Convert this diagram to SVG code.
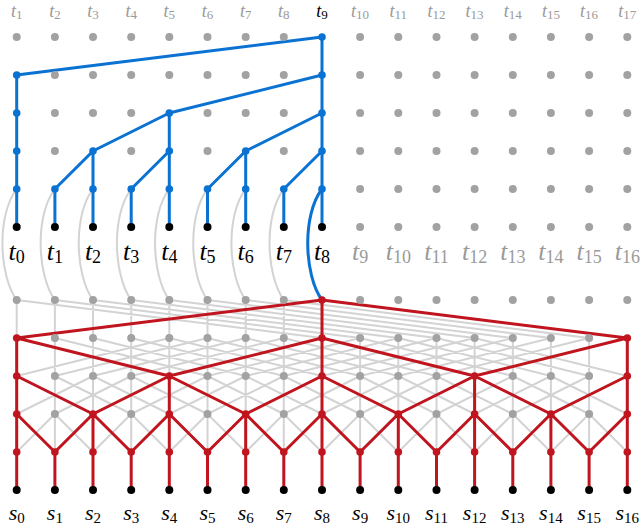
<svg xmlns="http://www.w3.org/2000/svg" xmlns:xlink="http://www.w3.org/1999/xlink" width="640" height="524" viewBox="0 0 640 524">
<style>
.gl{fill:none;stroke:#d3d3d3;stroke-width:2}
.bl{fill:none;stroke:#0a72d2;stroke-width:3;stroke-linejoin:round;stroke-linecap:round}
.rl{fill:none;stroke:#c0151f;stroke-width:3;stroke-linejoin:round;stroke-linecap:round}
.g{fill:#a2a2a2}
.b{fill:#0a72d2}
.r{fill:#c0151f}
.k{fill:#000}
text{font-family:"Liberation Serif","DejaVu Serif",serif;font-style:italic;text-anchor:middle}
.sb{font-style:normal}
.t1{font-size:18px}.t1 .sb{font-size:13px}
.t2{font-size:26px}.t2 .sb{font-size:18px}
.t3{font-size:22px}.t3 .sb{font-size:15px}
.tg{fill:#9a9a9a}
.tk{fill:#000}
</style>
<rect width="640" height="524" fill="#fff"/>
<g id="connectors">
<path class="gl" d="M16.7 189C-3.3 215 -1.3 275 16.7 300M54.9 189C34.9 215 36.9 275 54.9 300M93 189C73 215 75 275 93 300M131.2 189C111.2 215 113.2 275 131.2 300M169.3 189C149.3 215 151.3 275 169.3 300M207.5 189C187.5 215 189.5 275 207.5 300M245.7 189C225.7 215 227.7 275 245.7 300M283.8 189C263.8 215 265.8 275 283.8 300"/>
<path class="gl" d="M16.7 300V338M54.9 300V338M93 300V338M131.2 300V338M169.3 300V338M207.5 300V338M245.7 300V338M283.8 300V338
M16.7 300L322 338M54.9 300L360.1 338M93 300L398.3 338M131.2 300L436.5 338M169.3 300L474.6 338M207.5 300L512.8 338M245.7 300L550.9 338M283.8 300L589.1 338
M16.7 338V452M54.9 338V452M93 338V452M131.2 338V452M169.3 338V452M207.5 338V452M245.7 338V452M283.8 338V452M322 338V452M360.1 338V452M398.3 338V452M436.5 338V452M474.6 338V452M512.8 338V452M550.9 338V452M589.1 338V452M627.3 338V452
M16.7 338L169.3 376M54.9 338L207.5 376M93 338L245.7 376M131.2 338L283.8 376M169.3 338L322 376M207.5 338L360.1 376M245.7 338L398.3 376M283.8 338L436.5 376M322 338L474.6 376M360.1 338L512.8 376M398.3 338L550.9 376M436.5 338L589.1 376M474.6 338L627.3 376
M169.3 338L16.7 376M207.5 338L54.9 376M245.7 338L93 376M283.8 338L131.2 376M322 338L169.3 376M360.1 338L207.5 376M398.3 338L245.7 376M436.5 338L283.8 376M474.6 338L322 376M512.8 338L360.1 376M550.9 338L398.3 376M589.1 338L436.5 376M627.3 338L474.6 376
M16.7 376L93 414M54.9 376L131.2 414M93 376L169.3 414M131.2 376L207.5 414M169.3 376L245.7 414M207.5 376L283.8 414M245.7 376L322 414M283.8 376L360.1 414M322 376L398.3 414M360.1 376L436.5 414M398.3 376L474.6 414M436.5 376L512.8 414M474.6 376L550.9 414M512.8 376L589.1 414M550.9 376L627.3 414
M93 376L16.7 414M131.2 376L54.9 414M169.3 376L93 414M207.5 376L131.2 414M245.7 376L169.3 414M283.8 376L207.5 414M322 376L245.7 414M360.1 376L283.8 414M398.3 376L322 414M436.5 376L360.1 414M474.6 376L398.3 414M512.8 376L436.5 414M550.9 376L474.6 414M589.1 376L512.8 414M627.3 376L550.9 414
M16.7 414L54.9 452M54.9 414L93 452M93 414L131.2 452M131.2 414L169.3 452M169.3 414L207.5 452M207.5 414L245.7 452M245.7 414L283.8 452M283.8 414L322 452M322 414L360.1 452M360.1 414L398.3 452M398.3 414L436.5 452M436.5 414L474.6 452M474.6 414L512.8 452M512.8 414L550.9 452M550.9 414L589.1 452M589.1 414L627.3 452
M54.9 414L16.7 452M93 414L54.9 452M131.2 414L93 452M169.3 414L131.2 452M207.5 414L169.3 452M245.7 414L207.5 452M283.8 414L245.7 452M322 414L283.8 452M360.1 414L322 452M398.3 414L360.1 452M436.5 414L398.3 452M474.6 414L436.5 452M512.8 414L474.6 452M550.9 414L512.8 452M589.1 414L550.9 452M627.3 414L589.1 452"/>
<path class="rl" d="M322 300L16.7 338M322 300L627.3 338M322 300V338
M16.7 338V376M16.7 338L169.3 376M322 338L169.3 376M322 338V376M322 338L474.6 376M627.3 338L474.6 376M627.3 338V376
M16.7 376V414M16.7 376L93 414M169.3 376L93 414M169.3 376V414M169.3 376L245.7 414M322 376L245.7 414M322 376V414M322 376L398.3 414M474.6 376L398.3 414M474.6 376V414M474.6 376L550.9 414M627.3 376L550.9 414M627.3 376V414
M16.7 414V452M16.7 414L54.9 452M93 414L54.9 452M93 414V452M93 414L131.2 452M169.3 414L131.2 452M169.3 414V452M169.3 414L207.5 452M245.7 414L207.5 452M245.7 414V452M245.7 414L283.8 452M322 414L283.8 452M322 414V452M322 414L360.1 452M398.3 414L360.1 452M398.3 414V452M398.3 414L436.5 452M474.6 414L436.5 452M474.6 414V452M474.6 414L512.8 452M550.9 414L512.8 452M550.9 414V452M550.9 414L589.1 452M627.3 414L589.1 452M627.3 414V452
M16.7 452V490M54.9 452V490M93 452V490M131.2 452V490M169.3 452V490M207.5 452V490M245.7 452V490M283.8 452V490M322 452V490M360.1 452V490M398.3 452V490M436.5 452V490M474.6 452V490M512.8 452V490M550.9 452V490M589.1 452V490M627.3 452V490"/>
<path class="bl" d="M322 189C302 215 304 275 322 300"/>
<path class="bl" d="M16.7 75L322 37M322 37V227M16.7 75V227M322 75L169.3 113M169.3 113V227M169.3 113L93 151M322 113L245.7 151M93 151V227M245.7 151V227M93 151L54.9 189M169.3 151L131.2 189M245.7 151L207.5 189M322 151L283.8 189M54.9 189V227M131.2 189V227M207.5 189V227M283.8 189V227"/>
</g>
<g id="top-labels">
<text class="t1 tg" x="16.7" y="17">t<tspan class="sb" dy="2">1</tspan></text>
<text class="t1 tg" x="54.9" y="17">t<tspan class="sb" dy="2">2</tspan></text>
<text class="t1 tg" x="93" y="17">t<tspan class="sb" dy="2">3</tspan></text>
<text class="t1 tg" x="131.2" y="17">t<tspan class="sb" dy="2">4</tspan></text>
<text class="t1 tg" x="169.3" y="17">t<tspan class="sb" dy="2">5</tspan></text>
<text class="t1 tg" x="207.5" y="17">t<tspan class="sb" dy="2">6</tspan></text>
<text class="t1 tg" x="245.7" y="17">t<tspan class="sb" dy="2">7</tspan></text>
<text class="t1 tg" x="283.8" y="17">t<tspan class="sb" dy="2">8</tspan></text>
<text class="t1 tk" x="322" y="17">t<tspan class="sb" dy="2">9</tspan></text>
<text class="t1 tg" x="360.1" y="17">t<tspan class="sb" dy="2">10</tspan></text>
<text class="t1 tg" x="398.3" y="17">t<tspan class="sb" dy="2">11</tspan></text>
<text class="t1 tg" x="436.5" y="17">t<tspan class="sb" dy="2">12</tspan></text>
<text class="t1 tg" x="474.6" y="17">t<tspan class="sb" dy="2">13</tspan></text>
<text class="t1 tg" x="512.8" y="17">t<tspan class="sb" dy="2">14</tspan></text>
<text class="t1 tg" x="550.9" y="17">t<tspan class="sb" dy="2">15</tspan></text>
<text class="t1 tg" x="589.1" y="17">t<tspan class="sb" dy="2">16</tspan></text>
<text class="t1 tg" x="627.3" y="17">t<tspan class="sb" dy="2">17</tspan></text>
</g>
<g id="mid-labels">
<text class="t2 tk" x="16.7" y="260">t<tspan class="sb" dy="3">0</tspan></text>
<text class="t2 tk" x="54.9" y="260">t<tspan class="sb" dy="3">1</tspan></text>
<text class="t2 tk" x="93" y="260">t<tspan class="sb" dy="3">2</tspan></text>
<text class="t2 tk" x="131.2" y="260">t<tspan class="sb" dy="3">3</tspan></text>
<text class="t2 tk" x="169.3" y="260">t<tspan class="sb" dy="3">4</tspan></text>
<text class="t2 tk" x="207.5" y="260">t<tspan class="sb" dy="3">5</tspan></text>
<text class="t2 tk" x="245.7" y="260">t<tspan class="sb" dy="3">6</tspan></text>
<text class="t2 tk" x="283.8" y="260">t<tspan class="sb" dy="3">7</tspan></text>
<text class="t2 tk" x="322" y="260">t<tspan class="sb" dy="3">8</tspan></text>
<text class="t2 tg" x="360.1" y="260">t<tspan class="sb" dy="3">9</tspan></text>
<text class="t2 tg" x="398.3" y="260">t<tspan class="sb" dy="3">10</tspan></text>
<text class="t2 tg" x="436.5" y="260">t<tspan class="sb" dy="3">11</tspan></text>
<text class="t2 tg" x="474.6" y="260">t<tspan class="sb" dy="3">12</tspan></text>
<text class="t2 tg" x="512.8" y="260">t<tspan class="sb" dy="3">13</tspan></text>
<text class="t2 tg" x="550.9" y="260">t<tspan class="sb" dy="3">14</tspan></text>
<text class="t2 tg" x="589.1" y="260">t<tspan class="sb" dy="3">15</tspan></text>
<text class="t2 tg" x="627.3" y="260">t<tspan class="sb" dy="3">16</tspan></text>
</g>
<g id="bottom-labels">
<text class="t3 tk" x="16.7" y="520">s<tspan class="sb" dy="2.5">0</tspan></text>
<text class="t3 tk" x="54.9" y="520">s<tspan class="sb" dy="2.5">1</tspan></text>
<text class="t3 tk" x="93" y="520">s<tspan class="sb" dy="2.5">2</tspan></text>
<text class="t3 tk" x="131.2" y="520">s<tspan class="sb" dy="2.5">3</tspan></text>
<text class="t3 tk" x="169.3" y="520">s<tspan class="sb" dy="2.5">4</tspan></text>
<text class="t3 tk" x="207.5" y="520">s<tspan class="sb" dy="2.5">5</tspan></text>
<text class="t3 tk" x="245.7" y="520">s<tspan class="sb" dy="2.5">6</tspan></text>
<text class="t3 tk" x="283.8" y="520">s<tspan class="sb" dy="2.5">7</tspan></text>
<text class="t3 tk" x="322" y="520">s<tspan class="sb" dy="2.5">8</tspan></text>
<text class="t3 tk" x="360.1" y="520">s<tspan class="sb" dy="2.5">9</tspan></text>
<text class="t3 tk" x="398.3" y="520">s<tspan class="sb" dy="2.5">10</tspan></text>
<text class="t3 tk" x="436.5" y="520">s<tspan class="sb" dy="2.5">11</tspan></text>
<text class="t3 tk" x="474.6" y="520">s<tspan class="sb" dy="2.5">12</tspan></text>
<text class="t3 tk" x="512.8" y="520">s<tspan class="sb" dy="2.5">13</tspan></text>
<text class="t3 tk" x="550.9" y="520">s<tspan class="sb" dy="2.5">14</tspan></text>
<text class="t3 tk" x="589.1" y="520">s<tspan class="sb" dy="2.5">15</tspan></text>
<text class="t3 tk" x="627.3" y="520">s<tspan class="sb" dy="2.5">16</tspan></text>
</g>
<g id="top-nodes">
<g id="a0-0"><circle class="g" cx="16.7" cy="37" r="4"/></g>
<g id="a0-1"><circle class="g" cx="54.9" cy="37" r="4"/></g>
<g id="a0-2"><circle class="g" cx="93" cy="37" r="4"/></g>
<g id="a0-3"><circle class="g" cx="131.2" cy="37" r="4"/></g>
<g id="a0-4"><circle class="g" cx="169.3" cy="37" r="4"/></g>
<g id="a0-5"><circle class="g" cx="207.5" cy="37" r="4"/></g>
<g id="a0-6"><circle class="g" cx="245.7" cy="37" r="4"/></g>
<g id="a0-7"><circle class="g" cx="283.8" cy="37" r="4"/></g>
<g id="a0-8"><circle class="b" cx="322" cy="37" r="3.8"/></g>
<g id="a0-9"><circle class="g" cx="360.1" cy="37" r="4"/></g>
<g id="a0-10"><circle class="g" cx="398.3" cy="37" r="4"/></g>
<g id="a0-11"><circle class="g" cx="436.5" cy="37" r="4"/></g>
<g id="a0-12"><circle class="g" cx="474.6" cy="37" r="4"/></g>
<g id="a0-13"><circle class="g" cx="512.8" cy="37" r="4"/></g>
<g id="a0-14"><circle class="g" cx="550.9" cy="37" r="4"/></g>
<g id="a0-15"><circle class="g" cx="589.1" cy="37" r="4"/></g>
<g id="a0-16"><circle class="g" cx="627.3" cy="37" r="4"/></g>
<g id="a1-0"><circle class="b" cx="16.7" cy="75" r="3.8"/></g>
<g id="a1-1"><circle class="g" cx="54.9" cy="75" r="4"/></g>
<g id="a1-2"><circle class="g" cx="93" cy="75" r="4"/></g>
<g id="a1-3"><circle class="g" cx="131.2" cy="75" r="4"/></g>
<g id="a1-4"><circle class="g" cx="169.3" cy="75" r="4"/></g>
<g id="a1-5"><circle class="g" cx="207.5" cy="75" r="4"/></g>
<g id="a1-6"><circle class="g" cx="245.7" cy="75" r="4"/></g>
<g id="a1-7"><circle class="g" cx="283.8" cy="75" r="4"/></g>
<g id="a1-8"><circle class="b" cx="322" cy="75" r="3.8"/></g>
<g id="a1-9"><circle class="g" cx="360.1" cy="75" r="4"/></g>
<g id="a1-10"><circle class="g" cx="398.3" cy="75" r="4"/></g>
<g id="a1-11"><circle class="g" cx="436.5" cy="75" r="4"/></g>
<g id="a1-12"><circle class="g" cx="474.6" cy="75" r="4"/></g>
<g id="a1-13"><circle class="g" cx="512.8" cy="75" r="4"/></g>
<g id="a1-14"><circle class="g" cx="550.9" cy="75" r="4"/></g>
<g id="a1-15"><circle class="g" cx="589.1" cy="75" r="4"/></g>
<g id="a1-16"><circle class="g" cx="627.3" cy="75" r="4"/></g>
<g id="a2-0"><circle class="b" cx="16.7" cy="113" r="3.8"/></g>
<g id="a2-1"><circle class="g" cx="54.9" cy="113" r="4"/></g>
<g id="a2-2"><circle class="g" cx="93" cy="113" r="4"/></g>
<g id="a2-3"><circle class="g" cx="131.2" cy="113" r="4"/></g>
<g id="a2-4"><circle class="b" cx="169.3" cy="113" r="3.8"/></g>
<g id="a2-5"><circle class="g" cx="207.5" cy="113" r="4"/></g>
<g id="a2-6"><circle class="g" cx="245.7" cy="113" r="4"/></g>
<g id="a2-7"><circle class="g" cx="283.8" cy="113" r="4"/></g>
<g id="a2-8"><circle class="b" cx="322" cy="113" r="3.8"/></g>
<g id="a2-9"><circle class="g" cx="360.1" cy="113" r="4"/></g>
<g id="a2-10"><circle class="g" cx="398.3" cy="113" r="4"/></g>
<g id="a2-11"><circle class="g" cx="436.5" cy="113" r="4"/></g>
<g id="a2-12"><circle class="g" cx="474.6" cy="113" r="4"/></g>
<g id="a2-13"><circle class="g" cx="512.8" cy="113" r="4"/></g>
<g id="a2-14"><circle class="g" cx="550.9" cy="113" r="4"/></g>
<g id="a2-15"><circle class="g" cx="589.1" cy="113" r="4"/></g>
<g id="a2-16"><circle class="g" cx="627.3" cy="113" r="4"/></g>
<g id="a3-0"><circle class="b" cx="16.7" cy="151" r="3.8"/></g>
<g id="a3-1"><circle class="g" cx="54.9" cy="151" r="4"/></g>
<g id="a3-2"><circle class="b" cx="93" cy="151" r="3.8"/></g>
<g id="a3-3"><circle class="g" cx="131.2" cy="151" r="4"/></g>
<g id="a3-4"><circle class="b" cx="169.3" cy="151" r="3.8"/></g>
<g id="a3-5"><circle class="g" cx="207.5" cy="151" r="4"/></g>
<g id="a3-6"><circle class="b" cx="245.7" cy="151" r="3.8"/></g>
<g id="a3-7"><circle class="g" cx="283.8" cy="151" r="4"/></g>
<g id="a3-8"><circle class="b" cx="322" cy="151" r="3.8"/></g>
<g id="a3-9"><circle class="g" cx="360.1" cy="151" r="4"/></g>
<g id="a3-10"><circle class="g" cx="398.3" cy="151" r="4"/></g>
<g id="a3-11"><circle class="g" cx="436.5" cy="151" r="4"/></g>
<g id="a3-12"><circle class="g" cx="474.6" cy="151" r="4"/></g>
<g id="a3-13"><circle class="g" cx="512.8" cy="151" r="4"/></g>
<g id="a3-14"><circle class="g" cx="550.9" cy="151" r="4"/></g>
<g id="a3-15"><circle class="g" cx="589.1" cy="151" r="4"/></g>
<g id="a3-16"><circle class="g" cx="627.3" cy="151" r="4"/></g>
<g id="a4-0"><circle class="b" cx="16.7" cy="189" r="3.8"/></g>
<g id="a4-1"><circle class="b" cx="54.9" cy="189" r="3.8"/></g>
<g id="a4-2"><circle class="b" cx="93" cy="189" r="3.8"/></g>
<g id="a4-3"><circle class="b" cx="131.2" cy="189" r="3.8"/></g>
<g id="a4-4"><circle class="b" cx="169.3" cy="189" r="3.8"/></g>
<g id="a4-5"><circle class="b" cx="207.5" cy="189" r="3.8"/></g>
<g id="a4-6"><circle class="b" cx="245.7" cy="189" r="3.8"/></g>
<g id="a4-7"><circle class="b" cx="283.8" cy="189" r="3.8"/></g>
<g id="a4-8"><circle class="b" cx="322" cy="189" r="3.8"/></g>
<g id="a4-9"><circle class="g" cx="360.1" cy="189" r="4"/></g>
<g id="a4-10"><circle class="g" cx="398.3" cy="189" r="4"/></g>
<g id="a4-11"><circle class="g" cx="436.5" cy="189" r="4"/></g>
<g id="a4-12"><circle class="g" cx="474.6" cy="189" r="4"/></g>
<g id="a4-13"><circle class="g" cx="512.8" cy="189" r="4"/></g>
<g id="a4-14"><circle class="g" cx="550.9" cy="189" r="4"/></g>
<g id="a4-15"><circle class="g" cx="589.1" cy="189" r="4"/></g>
<g id="a4-16"><circle class="g" cx="627.3" cy="189" r="4"/></g>
<g id="a5-0"><circle class="k" cx="16.7" cy="227" r="4"/></g>
<g id="a5-1"><circle class="k" cx="54.9" cy="227" r="4"/></g>
<g id="a5-2"><circle class="k" cx="93" cy="227" r="4"/></g>
<g id="a5-3"><circle class="k" cx="131.2" cy="227" r="4"/></g>
<g id="a5-4"><circle class="k" cx="169.3" cy="227" r="4"/></g>
<g id="a5-5"><circle class="k" cx="207.5" cy="227" r="4"/></g>
<g id="a5-6"><circle class="k" cx="245.7" cy="227" r="4"/></g>
<g id="a5-7"><circle class="k" cx="283.8" cy="227" r="4"/></g>
<g id="a5-8"><circle class="k" cx="322" cy="227" r="4"/></g>
<g id="a5-9"><circle class="g" cx="360.1" cy="227" r="4"/></g>
<g id="a5-10"><circle class="g" cx="398.3" cy="227" r="4"/></g>
<g id="a5-11"><circle class="g" cx="436.5" cy="227" r="4"/></g>
<g id="a5-12"><circle class="g" cx="474.6" cy="227" r="4"/></g>
<g id="a5-13"><circle class="g" cx="512.8" cy="227" r="4"/></g>
<g id="a5-14"><circle class="g" cx="550.9" cy="227" r="4"/></g>
<g id="a5-15"><circle class="g" cx="589.1" cy="227" r="4"/></g>
<g id="a5-16"><circle class="g" cx="627.3" cy="227" r="4"/></g>
</g>
<g id="bottom-nodes">
<g id="b0-0"><circle class="g" cx="16.7" cy="300" r="4"/></g>
<g id="b0-1"><circle class="g" cx="54.9" cy="300" r="4"/></g>
<g id="b0-2"><circle class="g" cx="93" cy="300" r="4"/></g>
<g id="b0-3"><circle class="g" cx="131.2" cy="300" r="4"/></g>
<g id="b0-4"><circle class="g" cx="169.3" cy="300" r="4"/></g>
<g id="b0-5"><circle class="g" cx="207.5" cy="300" r="4"/></g>
<g id="b0-6"><circle class="g" cx="245.7" cy="300" r="4"/></g>
<g id="b0-7"><circle class="g" cx="283.8" cy="300" r="4"/></g>
<g id="b0-8"><circle class="r" cx="322" cy="300" r="3.8"/></g>
<g id="b0-9"><circle class="g" cx="360.1" cy="300" r="4"/></g>
<g id="b0-10"><circle class="g" cx="398.3" cy="300" r="4"/></g>
<g id="b0-11"><circle class="g" cx="436.5" cy="300" r="4"/></g>
<g id="b0-12"><circle class="g" cx="474.6" cy="300" r="4"/></g>
<g id="b0-13"><circle class="g" cx="512.8" cy="300" r="4"/></g>
<g id="b0-14"><circle class="g" cx="550.9" cy="300" r="4"/></g>
<g id="b0-15"><circle class="g" cx="589.1" cy="300" r="4"/></g>
<g id="b0-16"><circle class="g" cx="627.3" cy="300" r="4"/></g>
<g id="b1-0"><circle class="r" cx="16.7" cy="338" r="3.8"/></g>
<g id="b1-1"><circle class="g" cx="54.9" cy="338" r="4"/></g>
<g id="b1-2"><circle class="g" cx="93" cy="338" r="4"/></g>
<g id="b1-3"><circle class="g" cx="131.2" cy="338" r="4"/></g>
<g id="b1-4"><circle class="g" cx="169.3" cy="338" r="4"/></g>
<g id="b1-5"><circle class="g" cx="207.5" cy="338" r="4"/></g>
<g id="b1-6"><circle class="g" cx="245.7" cy="338" r="4"/></g>
<g id="b1-7"><circle class="g" cx="283.8" cy="338" r="4"/></g>
<g id="b1-8"><circle class="r" cx="322" cy="338" r="3.8"/></g>
<g id="b1-9"><circle class="g" cx="360.1" cy="338" r="4"/></g>
<g id="b1-10"><circle class="g" cx="398.3" cy="338" r="4"/></g>
<g id="b1-11"><circle class="g" cx="436.5" cy="338" r="4"/></g>
<g id="b1-12"><circle class="g" cx="474.6" cy="338" r="4"/></g>
<g id="b1-13"><circle class="g" cx="512.8" cy="338" r="4"/></g>
<g id="b1-14"><circle class="g" cx="550.9" cy="338" r="4"/></g>
<g id="b1-15"><circle class="g" cx="589.1" cy="338" r="4"/></g>
<g id="b1-16"><circle class="r" cx="627.3" cy="338" r="3.8"/></g>
<g id="b2-0"><circle class="r" cx="16.7" cy="376" r="3.8"/></g>
<g id="b2-1"><circle class="g" cx="54.9" cy="376" r="4"/></g>
<g id="b2-2"><circle class="g" cx="93" cy="376" r="4"/></g>
<g id="b2-3"><circle class="g" cx="131.2" cy="376" r="4"/></g>
<g id="b2-4"><circle class="r" cx="169.3" cy="376" r="3.8"/></g>
<g id="b2-5"><circle class="g" cx="207.5" cy="376" r="4"/></g>
<g id="b2-6"><circle class="g" cx="245.7" cy="376" r="4"/></g>
<g id="b2-7"><circle class="g" cx="283.8" cy="376" r="4"/></g>
<g id="b2-8"><circle class="r" cx="322" cy="376" r="3.8"/></g>
<g id="b2-9"><circle class="g" cx="360.1" cy="376" r="4"/></g>
<g id="b2-10"><circle class="g" cx="398.3" cy="376" r="4"/></g>
<g id="b2-11"><circle class="g" cx="436.5" cy="376" r="4"/></g>
<g id="b2-12"><circle class="r" cx="474.6" cy="376" r="3.8"/></g>
<g id="b2-13"><circle class="g" cx="512.8" cy="376" r="4"/></g>
<g id="b2-14"><circle class="g" cx="550.9" cy="376" r="4"/></g>
<g id="b2-15"><circle class="g" cx="589.1" cy="376" r="4"/></g>
<g id="b2-16"><circle class="r" cx="627.3" cy="376" r="3.8"/></g>
<g id="b3-0"><circle class="r" cx="16.7" cy="414" r="3.8"/></g>
<g id="b3-1"><circle class="g" cx="54.9" cy="414" r="4"/></g>
<g id="b3-2"><circle class="r" cx="93" cy="414" r="3.8"/></g>
<g id="b3-3"><circle class="g" cx="131.2" cy="414" r="4"/></g>
<g id="b3-4"><circle class="r" cx="169.3" cy="414" r="3.8"/></g>
<g id="b3-5"><circle class="g" cx="207.5" cy="414" r="4"/></g>
<g id="b3-6"><circle class="r" cx="245.7" cy="414" r="3.8"/></g>
<g id="b3-7"><circle class="g" cx="283.8" cy="414" r="4"/></g>
<g id="b3-8"><circle class="r" cx="322" cy="414" r="3.8"/></g>
<g id="b3-9"><circle class="g" cx="360.1" cy="414" r="4"/></g>
<g id="b3-10"><circle class="r" cx="398.3" cy="414" r="3.8"/></g>
<g id="b3-11"><circle class="g" cx="436.5" cy="414" r="4"/></g>
<g id="b3-12"><circle class="r" cx="474.6" cy="414" r="3.8"/></g>
<g id="b3-13"><circle class="g" cx="512.8" cy="414" r="4"/></g>
<g id="b3-14"><circle class="r" cx="550.9" cy="414" r="3.8"/></g>
<g id="b3-15"><circle class="g" cx="589.1" cy="414" r="4"/></g>
<g id="b3-16"><circle class="r" cx="627.3" cy="414" r="3.8"/></g>
<g id="b4-0"><circle class="r" cx="16.7" cy="452" r="3.8"/></g>
<g id="b4-1"><circle class="r" cx="54.9" cy="452" r="3.8"/></g>
<g id="b4-2"><circle class="r" cx="93" cy="452" r="3.8"/></g>
<g id="b4-3"><circle class="r" cx="131.2" cy="452" r="3.8"/></g>
<g id="b4-4"><circle class="r" cx="169.3" cy="452" r="3.8"/></g>
<g id="b4-5"><circle class="r" cx="207.5" cy="452" r="3.8"/></g>
<g id="b4-6"><circle class="r" cx="245.7" cy="452" r="3.8"/></g>
<g id="b4-7"><circle class="r" cx="283.8" cy="452" r="3.8"/></g>
<g id="b4-8"><circle class="r" cx="322" cy="452" r="3.8"/></g>
<g id="b4-9"><circle class="r" cx="360.1" cy="452" r="3.8"/></g>
<g id="b4-10"><circle class="r" cx="398.3" cy="452" r="3.8"/></g>
<g id="b4-11"><circle class="r" cx="436.5" cy="452" r="3.8"/></g>
<g id="b4-12"><circle class="r" cx="474.6" cy="452" r="3.8"/></g>
<g id="b4-13"><circle class="r" cx="512.8" cy="452" r="3.8"/></g>
<g id="b4-14"><circle class="r" cx="550.9" cy="452" r="3.8"/></g>
<g id="b4-15"><circle class="r" cx="589.1" cy="452" r="3.8"/></g>
<g id="b4-16"><circle class="r" cx="627.3" cy="452" r="3.8"/></g>
<g id="b5-0"><circle class="k" cx="16.7" cy="490" r="4"/></g>
<g id="b5-1"><circle class="k" cx="54.9" cy="490" r="4"/></g>
<g id="b5-2"><circle class="k" cx="93" cy="490" r="4"/></g>
<g id="b5-3"><circle class="k" cx="131.2" cy="490" r="4"/></g>
<g id="b5-4"><circle class="k" cx="169.3" cy="490" r="4"/></g>
<g id="b5-5"><circle class="k" cx="207.5" cy="490" r="4"/></g>
<g id="b5-6"><circle class="k" cx="245.7" cy="490" r="4"/></g>
<g id="b5-7"><circle class="k" cx="283.8" cy="490" r="4"/></g>
<g id="b5-8"><circle class="k" cx="322" cy="490" r="4"/></g>
<g id="b5-9"><circle class="k" cx="360.1" cy="490" r="4"/></g>
<g id="b5-10"><circle class="k" cx="398.3" cy="490" r="4"/></g>
<g id="b5-11"><circle class="k" cx="436.5" cy="490" r="4"/></g>
<g id="b5-12"><circle class="k" cx="474.6" cy="490" r="4"/></g>
<g id="b5-13"><circle class="k" cx="512.8" cy="490" r="4"/></g>
<g id="b5-14"><circle class="k" cx="550.9" cy="490" r="4"/></g>
<g id="b5-15"><circle class="k" cx="589.1" cy="490" r="4"/></g>
<g id="b5-16"><circle class="k" cx="627.3" cy="490" r="4"/></g>
</g>
</svg>
